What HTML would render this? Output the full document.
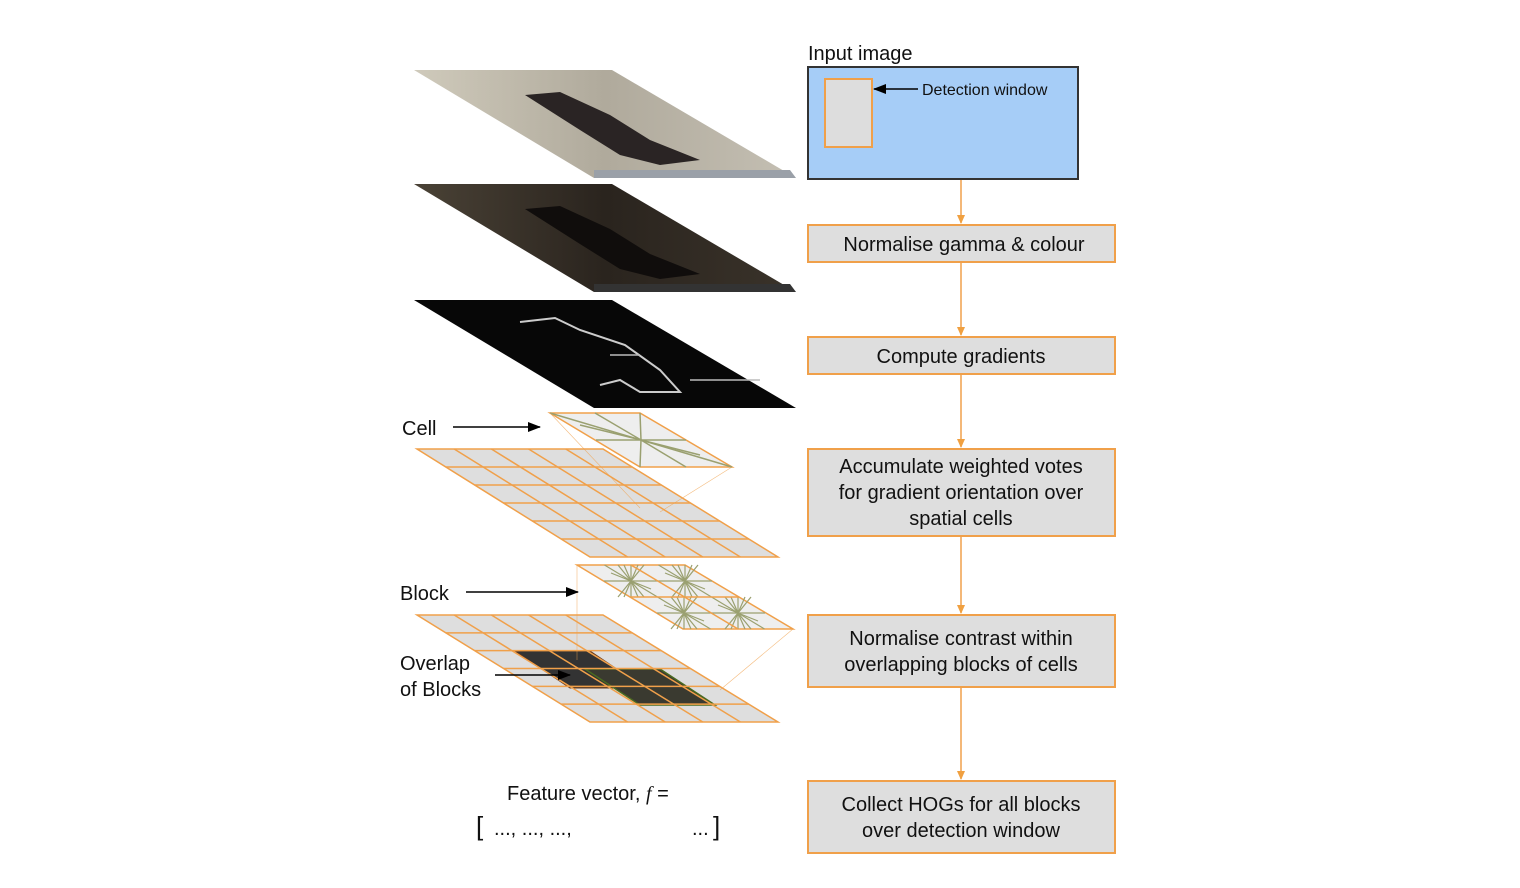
<!DOCTYPE html>
<html><head><meta charset="utf-8"><style>
html,body{margin:0;padding:0;background:#fff}
svg{display:block;font-family:"Liberation Sans",Arial,sans-serif}
</style></head><body>
<svg width="1520" height="888" viewBox="0 0 1520 888">
<defs>
<marker id="ao" markerWidth="10" markerHeight="10" refX="8" refY="5" orient="auto" markerUnits="userSpaceOnUse"><path d="M0,1 L9,5 L0,9 Z" fill="#f0a040"/></marker>
<marker id="ab" markerWidth="14" markerHeight="12" refX="12" refY="6" orient="auto" markerUnits="userSpaceOnUse"><path d="M0,1 L13,6 L0,11 Z" fill="#000"/></marker>
<linearGradient id="g1" x1="0" y1="0" x2="1" y2="0"><stop offset="0" stop-color="#cfcabb"/><stop offset="0.5" stop-color="#b0aa9c"/><stop offset="1" stop-color="#c4bfb3"/></linearGradient>
<linearGradient id="g2" x1="0" y1="0" x2="1" y2="0"><stop offset="0" stop-color="#4a4236"/><stop offset="0.5" stop-color="#2a241e"/><stop offset="1" stop-color="#3a332a"/></linearGradient>
</defs>

<g>
<polygon points="414,70 612,70 796,178 594,178" fill="url(#g1)"/>
<polygon points="525,95 560,92 610,115 650,140 700,160 660,165 620,155 580,130" fill="#2a2424"/>
<polygon points="594,170 790,170 796,178 594,178" fill="#9aa0a8"/>
</g>
<g>
<polygon points="414,184 612,184 796,292 594,292" fill="url(#g2)"/>
<polygon points="525,209 560,206 610,229 650,254 700,274 660,279 620,269 580,244" fill="#100d0c"/>
<polygon points="594,284 790,284 796,292 594,292" fill="#333"/>
</g>
<g>
<polygon points="414,300 612,300 796,408 594,408" fill="#070707"/>
<path d="M520,322 L555,318 L580,330 L625,345 L660,370 L680,392 L640,392 L620,380 L600,385" fill="none" stroke="#ccc" stroke-width="2"/>
<path d="M610,355 L640,355 M690,380 L760,380" stroke="#bbb" stroke-width="1.5"/>
</g>

<g stroke="#f0a04a" stroke-width="1.5" fill="#dedede">
<polygon points="417,449 603,449 778,557 590,557"/>
<g id="grid1lines" fill="none"></g>
</g>
<g>
<polygon points="550,413 640,413 732,467 640,467" fill="#eee" stroke="#f0a04a" stroke-width="1.5"/>
<g stroke="#9aa070" stroke-width="1.5">
<line x1="641" y1="440" x2="550" y2="413"/><line x1="641" y1="440" x2="732" y2="467"/>
<line x1="641" y1="440" x2="640" y2="413"/><line x1="641" y1="440" x2="640" y2="467"/>
<line x1="641" y1="440" x2="595" y2="413"/><line x1="641" y1="440" x2="686" y2="467"/>
<line x1="641" y1="440" x2="686" y2="440"/><line x1="641" y1="440" x2="596" y2="440"/>
<line x1="641" y1="440" x2="580" y2="425"/><line x1="641" y1="440" x2="700" y2="455"/>
</g>
<g stroke="#f0a04a" stroke-width="0.6" opacity="0.7"><line x1="550" y1="413" x2="640" y2="508"/><line x1="732" y1="467" x2="660" y2="512"/></g>
</g>
<g stroke="#f0a04a" stroke-width="1.5" fill="#dedede">
<polygon points="417,615 603,615 778,722 590,722"/>
</g>
<g>
<polygon points="515,651 590,651 645,688 570,688" fill="#333" stroke="#6a3a1a"/>
<polygon points="585,669 660,669 715,705 640,705" fill="#3a3a30" stroke="#4a6a20" stroke-width="1.5"/>
</g>
<g id="grid2lines" stroke="#f0a04a" stroke-width="1.5" fill="none"></g>
<g>
<polygon points="577,565 685,565 793,629 683,629" fill="#eee" stroke="#f0a04a" stroke-width="1.5"/>
<g id="blockrays" stroke="#9aa070" stroke-width="1.2"></g>
<line x1="631" y1="565" x2="738" y2="629" stroke="#f0a04a" stroke-width="1.5"/>
<line x1="630" y1="597" x2="739" y2="597" stroke="#f0a04a" stroke-width="1.5"/>
<g stroke="#f0a04a" stroke-width="0.6" opacity="0.7"><line x1="577" y1="565" x2="577" y2="660"/><line x1="793" y1="629" x2="720" y2="690"/></g>
</g>

<text x="402" y="435" font-size="20" fill="#111">Cell</text>
<line x1="453" y1="427" x2="540" y2="427" stroke="#000" stroke-width="1.5" marker-end="url(#ab)"/>
<text x="400" y="600" font-size="20" fill="#111">Block</text>
<line x1="466" y1="592" x2="578" y2="592" stroke="#000" stroke-width="1.5" marker-end="url(#ab)"/>
<text x="400" y="670" font-size="20" fill="#111">Overlap</text>
<text x="400" y="696" font-size="20" fill="#111">of Blocks</text>
<line x1="495" y1="675" x2="570" y2="675" stroke="#000" stroke-width="1.5" marker-end="url(#ab)"/>
<text x="507" y="800" font-size="20" fill="#111">Feature vector, <tspan font-family="Liberation Serif" font-style="italic">f</tspan> =</text>
<text x="476" y="835" font-size="26" fill="#111">[</text>
<text x="494" y="835" font-size="20" fill="#111">..., ..., ...,</text>
<text x="692" y="835" font-size="20" fill="#111">...</text>
<text x="713" y="835" font-size="26" fill="#111">]</text>

<text x="808" y="60" font-size="20" fill="#111">Input image</text>
<rect x="808" y="67" width="270" height="112" fill="#a6cdf7" stroke="#333" stroke-width="2"/>
<rect x="825" y="79" width="47" height="68" fill="#ddd" stroke="#f0a04a" stroke-width="2"/>
<line x1="918" y1="89" x2="874" y2="89" stroke="#000" stroke-width="1.5" marker-end="url(#ab)"/>
<text x="922" y="95" font-size="16" fill="#111">Detection window</text>

<g fill="#dedede" stroke="#f0a04a" stroke-width="2">
<rect x="808" y="225" width="307" height="37"/>
<rect x="808" y="337" width="307" height="37"/>
<rect x="808" y="449" width="307" height="87"/>
<rect x="808" y="615" width="307" height="72"/>
<rect x="808" y="781" width="307" height="72"/>
</g>
<g stroke="#f0a04a" stroke-width="1.5" marker-end="url(#ao)">
<line x1="961" y1="180" x2="961" y2="223"/>
<line x1="961" y1="263" x2="961" y2="335"/>
<line x1="961" y1="375" x2="961" y2="447"/>
<line x1="961" y1="537" x2="961" y2="613"/>
<line x1="961" y1="688" x2="961" y2="779"/>
</g>
<g font-size="20" fill="#111" text-anchor="middle">
<text x="964" y="251">Normalise gamma &amp; colour</text>
<text x="961" y="363">Compute gradients</text>
<text x="961" y="473">Accumulate weighted votes</text>
<text x="961" y="499">for gradient orientation over</text>
<text x="961" y="525">spatial cells</text>
<text x="961" y="645">Normalise contrast within</text>
<text x="961" y="671">overlapping blocks of cells</text>
<text x="961" y="811">Collect HOGs for all blocks</text>
<text x="961" y="837">over detection window</text>
</g>
</svg>
<script>
const NS='http://www.w3.org/2000/svg';
function grid(gid,tl,tr,bl,br,cols,rows){
  const g=document.getElementById(gid);
  const L=(a,b,t)=>[a[0]+(b[0]-a[0])*t,a[1]+(b[1]-a[1])*t];
  for(let i=1;i<cols;i++){const p=L(tl,tr,i/cols),q=L(bl,br,i/cols);
    const l=document.createElementNS(NS,'line');
    
    
    l.setAttribute('x1',p[0]);l.setAttribute('y1',p[1]);l.setAttribute('x2',q[0]);l.setAttribute('y2',q[1]);g.appendChild(l);}
  for(let j=1;j<rows;j++){const p=L(tl,bl,j/rows),q=L(tr,br,j/rows);
    const l=document.createElementNS(NS,'line');
    
    
    l.setAttribute('x1',p[0]);l.setAttribute('y1',p[1]);l.setAttribute('x2',q[0]);l.setAttribute('y2',q[1]);g.appendChild(l);}
}
grid('grid1lines',[417,449],[603,449],[590,557],[778,557],5,6);
grid('grid2lines',[417,615],[603,615],[590,722],[778,722],5,6);
const br=document.getElementById('blockrays');
[[631,581],[685,581],[684,613],[738,613]].forEach(c=>{
  [[-53,-32],[0,-32],[-26,-32],[26,-32],[-54,0],[-40,-16],[-14,-32],[14,-32]].forEach(d=>{
    const l=document.createElementNS(NS,'line');
    
    
    l.setAttribute('x1',c[0]-d[0]*0.5);l.setAttribute('y1',c[1]-d[1]*0.5);l.setAttribute('x2',c[0]+d[0]*0.5);l.setAttribute('y2',c[1]+d[1]*0.5);br.appendChild(l);});
});
</script>
</body></html>
